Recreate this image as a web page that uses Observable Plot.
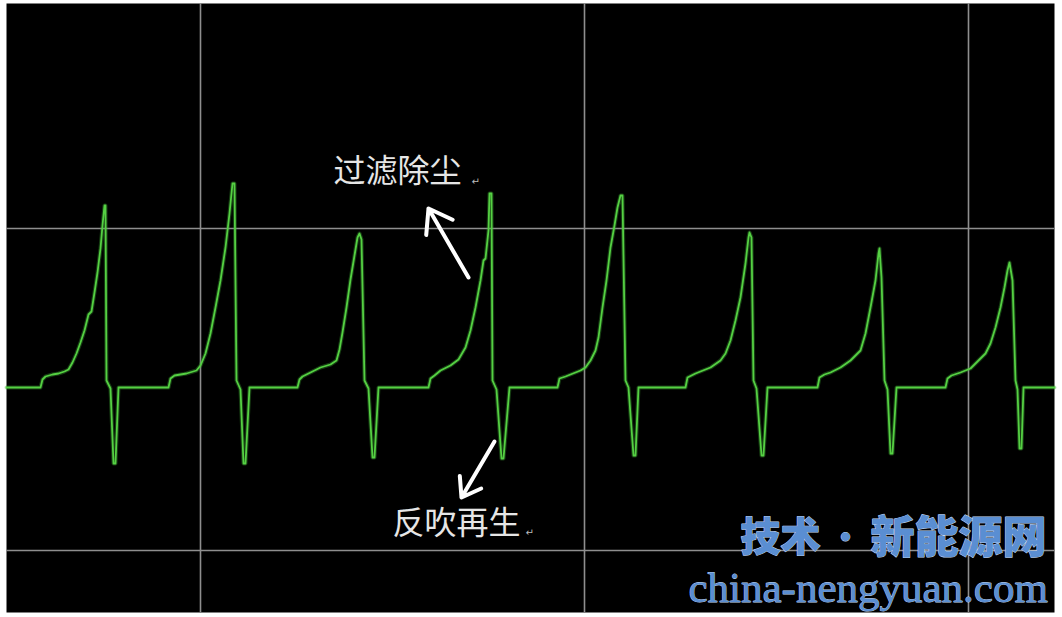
<!DOCTYPE html>
<html>
<head>
<meta charset="utf-8">
<script src="https://cdn.jsdelivr.net/npm/d3@7"></script>
<script src="https://cdn.jsdelivr.net/npm/@observablehq/plot@0.6"></script>
<style>
  html, body { margin: 0; padding: 0; background: #ffffff; }
  #chart svg { display: block; }
</style>
</head>
<body>
<div id="chart"></div>
<script>
// Oscilloscope trace: time (samples) and signal level (arbitrary units, baseline = 0)
const waveT = [
  0,34,36,39,46,52,58,62,66,70,74,78,82,85,88,91,94,96,98,99,100,104,107,109,112,
  162,164,168,180,190,194,199,204,209,214,219,223,226,228,230,234,237,239,243,
  291,293,296,304,314,324,330,333,336,340,344,348,351,353,355,358,362,366,368,372,
  422,424,428,434,444,452,459,464,469,474,477,479,482,483,485,486,490,495,497,503,
  551,553,559,574,579,584,589,592,596,600,604,608,611,614,616,619,622,627,629,632,
  679,681,689,704,714,719,724,729,734,739,742,743,745,747,750,755,757,761,
  811,813,818,824,834,844,854,859,864,869,872,873,875,878,881,884,886,890,
  939,941,945,954,964,969,979,984,989,994,998,1001,1003,1006,1009,1011,1013,1015,1017,1048
];
const waveV = [
  0,0,8,11,13,14,16,18,25,34,45,57,73,76,95,115,139,162,182,182,7,-1,-76,-76,0,
  0,9,12,14,17,22,34,54,80,107,140,174,204,204,7,-2,-76,-76,0,
  0,8,11,15,20,23,27,38,55,80,108,132,150,154,148,7,-1,-70,-70,0,
  0,9,12,17,22,28,40,57,80,107,127,129,157,194,194,7,-2,-71,-71,0,
  0,9,11,17,20,27,37,50,80,107,140,162,180,192,192,7,0,-68,-68,0,
  0,10,14,20,27,34,47,67,90,124,150,155,150,7,-1,-68,-68,0,
  0,10,13,15,20,27,37,54,80,107,134,139,110,7,-2,-66,-66,0,
  0,9,12,15,19,24,34,44,60,80,100,117,125,107,7,-2,-61,-61,0,0
];

// Grid divisions
const gridX = [194, 578, 962];
const gridY = [159, -163];

// Annotation labels
const labelFilter = "过滤除尘";
const labelBlow = "反吹再生";
const brandCN1 = "技术";
const brandDot = "·";
const brandCN2 = "新能源网";
const brandURL = "china-nengyuan.com";

const wave = waveT.map((t, i) => ({t, v: waveV[i]}));

const brandStyle = {fill: "#5a8ed2", stroke: "#c4d8f2", strokeWidth: 1, paintOrder: "stroke", fontWeight: 900, fontFamily: "Noto Sans CJK SC"};

const chart = Plot.plot({
  width: 1062,
  height: 617,
  marginLeft: 6,
  marginRight: 8,
  marginTop: 3,
  marginBottom: 5,
  x: {domain: [0, 1048], axis: null},
  y: {domain: [-225, 384], axis: null},
  style: {background: "#ffffff"},
  marks: [
    Plot.frame({fill: "#000000", stroke: null}),
    Plot.ruleX(gridX, {stroke: "#8e8e8e", strokeWidth: 1.6}),
    Plot.ruleY(gridY, {stroke: "#8e8e8e", strokeWidth: 1.6}),
    Plot.line(wave, {x: "t", y: "v", stroke: "#3fae33", strokeOpacity: 0.35, strokeWidth: 4, strokeLinejoin: "round"}),
    Plot.line(wave, {x: "t", y: "v", stroke: "#55d043", strokeWidth: 1.8, strokeLinejoin: "round"}),
    Plot.arrow([{x1: 462, y1: 110, x2: 422, y2: 179}], {x1: "x1", y1: "y1", x2: "x2", y2: "y2", stroke: "#ffffff", strokeWidth: 4, headLength: 16, headAngle: 70}),
    Plot.arrow([{x1: 488, y1: -54, x2: 455, y2: -110}], {x1: "x1", y1: "y1", x2: "x2", y2: "y2", stroke: "#ffffff", strokeWidth: 4, headLength: 16, headAngle: 70}),
    Plot.text([labelFilter], {x: 327, y: 216, text: d => d, textAnchor: "start", fill: "#e6e6e6", fontSize: 32, fontFamily: "Noto Sans CJK SC"}),
    Plot.text(["↵"], {x: 465, y: 206, text: d => d, textAnchor: "start", fill: "#bbbbbb", fontSize: 10, fontFamily: "DejaVu Sans"}),
    Plot.text([labelBlow], {x: 386, y: -136, text: d => d, textAnchor: "start", fill: "#e6e6e6", fontSize: 32, fontFamily: "Noto Sans CJK SC"}),
    Plot.text(["↵"], {x: 519, y: -145, text: d => d, textAnchor: "start", fill: "#bbbbbb", fontSize: 10, fontFamily: "DejaVu Sans"}),
    Plot.text([brandCN1], {x: 734, y: -151, text: d => d, textAnchor: "start", fontSize: 40, ...brandStyle}),
    Plot.text([brandDot], {x: 839, y: -151, text: d => d, textAnchor: "middle", fontSize: 30, ...brandStyle}),
    Plot.text([brandCN2], {x: 864, y: -151, text: d => d, textAnchor: "start", fontSize: 44, ...brandStyle}),
    Plot.text([brandURL], {x: 682, y: -201, text: d => d, textAnchor: "start", fill: "#5a8ed2", stroke: "#c4d8f2", strokeWidth: 0.8, paintOrder: "stroke", fontSize: 43, fontFamily: "Liberation Serif"})
  ]
});

document.getElementById("chart").appendChild(chart);
</script>
</body>
</html>
